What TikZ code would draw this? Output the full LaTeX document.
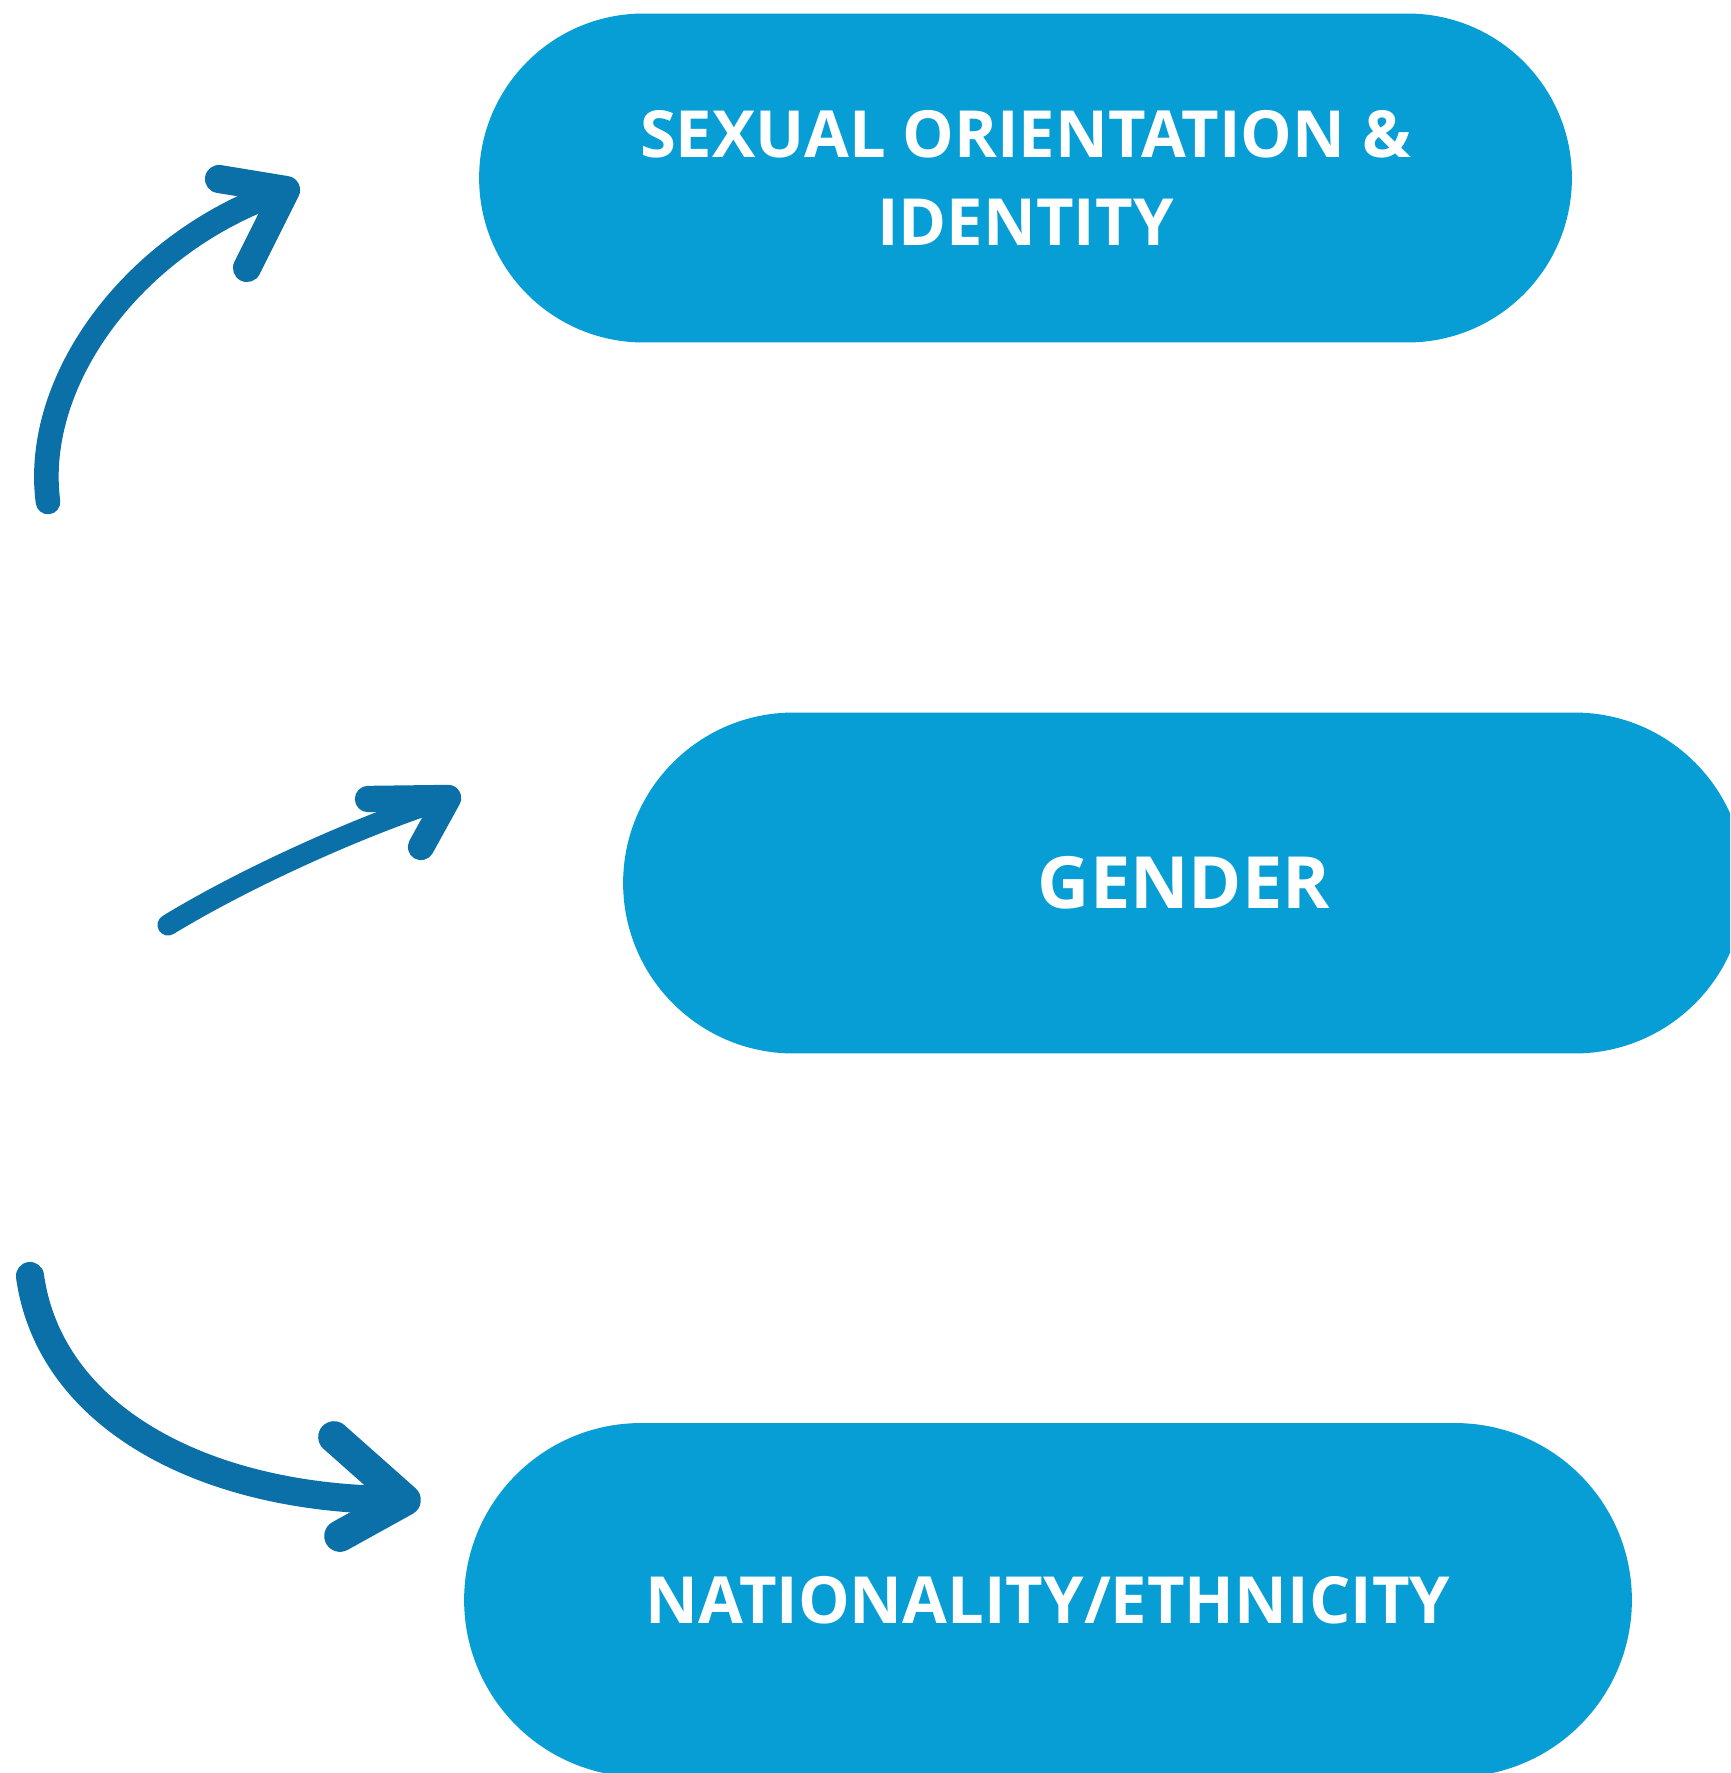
\documentclass[tikz,border=0pt]{standalone}
\usepackage{fontspec}
\setsansfont{Open Sans}
\definecolor{pillblue}{HTML}{079DD5}
\definecolor{inkblue}{HTML}{0B6FA8}
\tikzset{
  pill/.style={fill=pillblue,inner sep=0pt,text=white,align=center,
    font=\sffamily\bfseries\fontsize{37}{50}\selectfont},
  brush/.style={draw=inkblue,line cap=round,line join=round}
}

\begin{document}
\begin{tikzpicture}[x=0.02cm,y=-0.02cm]
  \useasboundingbox (0,0) rectangle (1730,1773);
  \clip (0,0) rectangle (1730,1773);
  % cajas redondeadas
  \node[pill,minimum width=21.86cm,minimum height=6.58cm,rounded corners=3.29cm]
    (sexual) at (1025.5,178) {SEXUAL ORIENTATION \&\\IDENTITY};
  \node[pill,minimum width=22.44cm,minimum height=6.82cm,rounded corners=3.41cm,
    font=\sffamily\bfseries\fontsize{41}{50}\selectfont]
    (gender) at (1184,883) {GENDER};
  \node[pill,minimum width=23.36cm,minimum height=7.08cm,rounded corners=3.54cm]
    (nation) at (1048,1600) {NATIONALITY/ETHNICITY};
  % flecha curva hacia arriba
  \coordinate (sexTail) at (48,502);
  \coordinate (sexTip) at (286,190);
  \coordinate (sexBarbA) at (219,179);
  \coordinate (sexBarbB) at (247,268);
  \draw[brush,line width=14pt] (sexTail) .. controls (32,380) and (135,240) .. (sexTip);
  \draw[brush,line width=16pt] (sexBarbA) -- (sexTip) -- (sexBarbB);
  % flecha casi recta
  \coordinate (genTail) at (168,925);
  \coordinate (genTip) at (448,798);
  \coordinate (genBarbA) at (368,799);
  \coordinate (genBarbB) at (421,847);
  \draw[brush,line width=12pt] (genTail) .. controls (250,875) and (370,822) .. (genTip);
  \draw[brush,line width=15pt] (genBarbA) -- (genTip) -- (genBarbB);
  % flecha curva hacia abajo
  \coordinate (natTail) at (30,1276);
  \coordinate (natTip) at (405,1500);
  \coordinate (natBarbA) at (334,1437);
  \coordinate (natBarbB) at (340,1536);
  \draw[brush,line width=16pt] (natTail) .. controls (50,1420) and (210,1502) .. (natTip);
  \draw[brush,line width=18pt] (natBarbA) -- (natTip) -- (natBarbB);
\end{tikzpicture}
\end{document}
